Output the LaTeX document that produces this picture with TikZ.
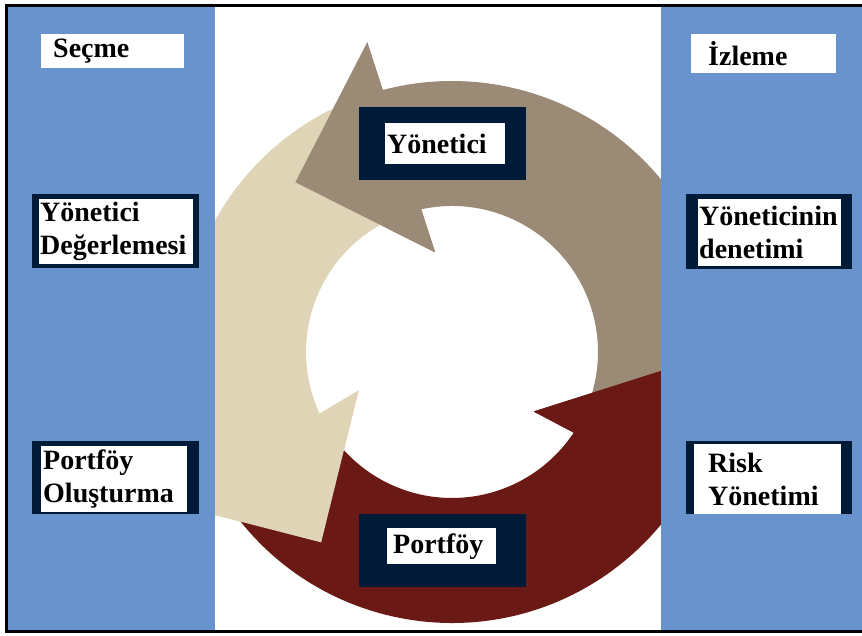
\documentclass[tikz,border=0pt]{standalone}
\usepackage{fontspec}
\setmainfont{Liberation Serif}
\definecolor{BleuColonne}{HTML}{6893CC}
\definecolor{BrunFleche}{HTML}{9A8A76}
\definecolor{BeigeFleche}{HTML}{DFD4B5}
\definecolor{RougeFleche}{HTML}{6B1914}
\definecolor{MarineCadre}{HTML}{001B38}
\tikzset{
	boite/.style={fill=white, anchor=north west, inner sep=0pt, align=left, text=black,
		font=\fontsize{28}{33}\selectfont\bfseries}
}
% fleche circulaire : couleur, angle de la queue, angle de la barbe interieure
\newcommand{\fleche}[3]{%
	\fill[#1] (#2:271) arc[start angle=#2, end angle=#3+5.2, radius=271]
	-- (#3+5.7:321) -- (#3+33.1:231) -- (#3:101)
	-- (#3+2.6:146) arc[start angle=#3+2.6, end angle=#2, radius=146] -- cycle;}
% pointe seule, posee par-dessus la queue de la fleche suivante
\newcommand{\pointe}[2]{%
	\fill[#1] (#2+5.7:321) -- (#2+33.1:231) -- (#2:101) -- cycle;}

\begin{document}
\begin{tikzpicture}[x=1pt, y=1pt]
	\useasboundingbox (0,0) rectangle (862,635);
	\clip (0,0) rectangle (862,635);
	\fill[white] (0,0) rectangle (862,635);
	%
	%Cycle
	\begin{scope}[shift={(452,283)}]
		\fleche{BrunFleche}{-25.1}{99.6}
		\fleche{BeigeFleche}{110.6}{202.4}
		\fleche{RougeFleche}{213.4}{323.9}
		%
		\pointe{BrunFleche}{99.6}
		\pointe{BeigeFleche}{202.4}
		\pointe{RougeFleche}{323.9}
	\end{scope}
	%
	%Colonnes
	\fill[BleuColonne] (7,5) rectangle (215,628);
	\fill[BleuColonne] (661,5) rectangle (870,628);
	\draw[line width=3pt] (6,3.5) rectangle (870,629.5);
	%
	%Seçme
	\node[boite, text width=119pt, inner xsep=12pt, minimum height=34pt] (secme) at (41,601) {Seçme};
	\fill[MarineCadre] (32,367) rectangle (199,441);
	\node[boite, text width=152pt, inner xsep=1pt, minimum height=65pt] (degerleme) at (39,436) {Yönetici\\Değerlemesi};
	\fill[MarineCadre] (32,121) rectangle (199,194);
	\node[boite, text width=142pt, inner xsep=2pt, minimum height=66pt] (olusturma) at (41,189) {Portföy\\Oluşturma};
	%
	%İzleme
	\node[boite, text width=111pt, inner xsep=17pt, minimum height=39pt] (izleme) at (691,601) {İzleme};
	\fill[MarineCadre] (686,366) rectangle (852,441);
	\node[boite, text width=141pt, inner xsep=1pt, minimum height=67pt] (denetim) at (698,436) {Yöneticinin\\denetimi};
	\fill[MarineCadre] (686,121) rectangle (852,194);
	\node[boite, text width=119pt, inner xsep=14pt, minimum height=70pt] (risk) at (694,191) {Risk\\Yönetimi};
	%
	%Centre
	\fill[MarineCadre] (359,455) rectangle (526,528);
	\node[boite, text width=116pt, inner xsep=2pt, minimum height=41pt] (yonetici) at (385,512) {Yönetici};
	\fill[MarineCadre] (359,48) rectangle (526,121);
	\node[boite, text width=97pt, inner xsep=6pt, minimum height=36pt] (portfoy) at (387,107) {Portföy};
\end{tikzpicture}
\end{document}
